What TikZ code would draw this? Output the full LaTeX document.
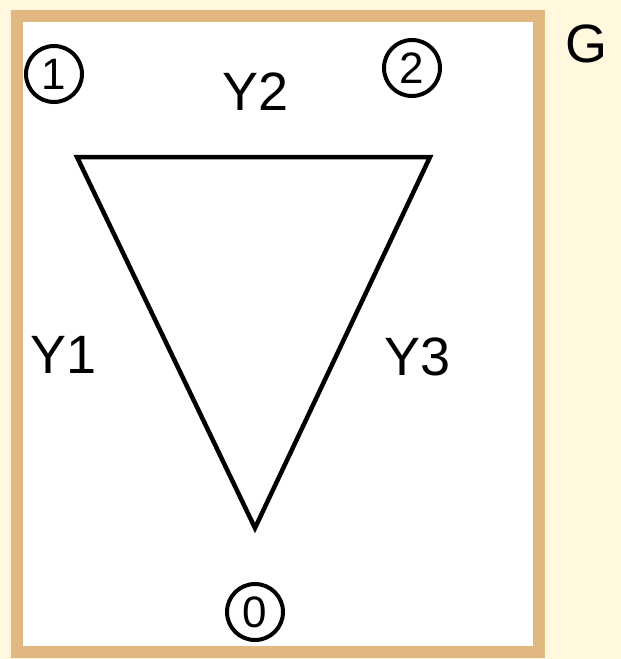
\documentclass[tikz,border=0pt]{standalone}
\usepackage{fontspec}
\setmainfont{Liberation Sans}
\definecolor{cream}{RGB}{255,248,222}
\definecolor{tan}{RGB}{224,184,128}
\begin{document}
\begin{tikzpicture}[x=1pt,y=-1pt,
  num/.style={draw,circle,line width=4pt,minimum size=56pt,inner sep=0pt,font=\fontsize{44}{44}\selectfont},
  lbl/.style={font=\fontsize{54}{54}\selectfont,inner sep=0pt},
  edge/.style={line width=4.5pt,line join=miter}]
\fill[cream] (0,0) rectangle (621,659);
\useasboundingbox (0,0) rectangle (621,659);
\draw[tan,line width=12pt,fill=white] (17,16) rectangle (539,652);
\node[num] (n1) at (54,74) {1};
\node[num] (n2) at (412,68) {2};
\node[num] (n0) at (255,612) {0};
\node[lbl] (g) at (586,44) {G};
\node[lbl] (y2) at (256,92) {Y2};
\node[lbl] (y1) at (64,355) {Y1};
\node[lbl] (y3) at (418,357) {Y3};
\coordinate (a) at (77,157);
\coordinate (b) at (430,157);
\coordinate (c) at (255,528);
\draw[edge] (a) -- (b) -- (c) -- cycle;
\end{tikzpicture}
\end{document}
